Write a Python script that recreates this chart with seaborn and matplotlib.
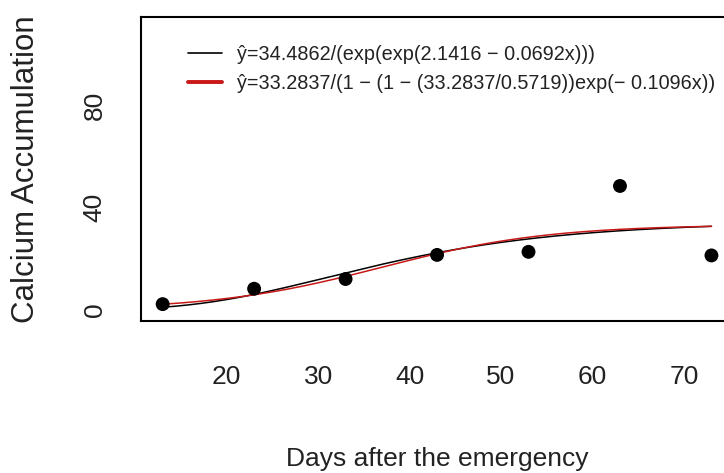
import numpy as np
import pandas as pd
import matplotlib
matplotlib.use("Agg")
import matplotlib.pyplot as plt
import seaborn as sns

# observed calcium accumulation
days = [13, 23, 33, 43, 53, 63, 73]
calcium = [2.3, 8.3, 12.1, 21.5, 22.7, 48.4, 21.3]

# fitted model coefficients (as printed in the legend)
gomp_a, gomp_b, gomp_c = 34.4862, 2.1416, 0.0692
logi_a, logi_y0, logi_k = 33.2837, 0.5719, 0.1096

gomp_label = "ŷ=34.4862/(exp(exp(2.1416 − 0.0692x)))"
logi_label = "ŷ=33.2837/(1 − (1 − (33.2837/0.5719))exp(− 0.1096x))"

x_ticks = [20, 30, 40, 50, 60, 70]
y_ticks = [0, 20, 40, 60, 80, 100]
y_ticklabels = ["0", "", "40", "", "80", ""]

xs = np.linspace(min(days), max(days), 300)
curves = pd.DataFrame({
    "x": xs,
    "gomp": gomp_a / np.exp(np.exp(gomp_b - gomp_c * xs)),
    "logi": logi_a / (1 - (1 - logi_a / logi_y0) * np.exp(-logi_k * xs)),
})
pts = pd.DataFrame({"days": days, "calcium": calcium})

sns.set_style("white")
plt.rcParams["font.family"] = ["Liberation Sans", "DejaVu Sans"]

W, H = 724, 473
fig = plt.figure(figsize=(W / 100, H / 100), dpi=100)
left, right, top, bottom = 140.7, 733.4, 16.8, 321.3
ax = fig.add_axes([left / W, 1 - bottom / H, (right - left) / W, (bottom - top) / H])

sns.lineplot(data=curves, x="x", y="gomp", color="black", lw=1.1, ax=ax, label=gomp_label)
sns.lineplot(data=curves, x="x", y="logi", color="#c81818", lw=1.1, ax=ax, label=logi_label)
sns.scatterplot(data=pts, x="days", y="calcium", color="black", s=100, edgecolor="none", ax=ax,
                zorder=5)

ax.set_xlim(10.6, 75.4)
ax.set_ylim(-4.4, 114.4)
ax.set_xticks(x_ticks)
ax.set_xticklabels([str(t) for t in x_ticks], fontsize=19, color="#222222")
ax.set_yticks(y_ticks)
ax.set_yticklabels(y_ticklabels, fontsize=19, rotation=90, va="center", color="#222222")
ax.tick_params(axis="both", direction="out", length=11.5, width=1.2, color="black")
ax.tick_params(axis="x", pad=20)
ax.tick_params(axis="y", pad=13)

for sp in ["left", "top", "bottom", "right"]:
    ax.spines[sp].set_color("black")
    ax.spines[sp].set_linewidth(1.5)

ax.set_xlabel("Days after the emergency", fontsize=19, color="#222222", labelpad=42)
ax.set_ylabel("Calcium Accumulation", fontsize=22.5, color="#222222", labelpad=30)

handles, labels = ax.get_legend_handles_labels()
leg = ax.legend(handles, labels, loc="upper left", bbox_to_anchor=(188 / W, 1 - 45 / H),
                bbox_transform=fig.transFigure, frameon=False, fontsize=14.3,
                handlelength=1.7, handletextpad=0.75, labelspacing=0.5,
                borderpad=0, borderaxespad=0)
leg.legend_handles[0].set_linewidth(1.2)
leg.legend_handles[1].set_linewidth(2.8)
for t in leg.get_texts():
    t.set_color("#222222")

fig.savefig("out.png", dpi=100)
